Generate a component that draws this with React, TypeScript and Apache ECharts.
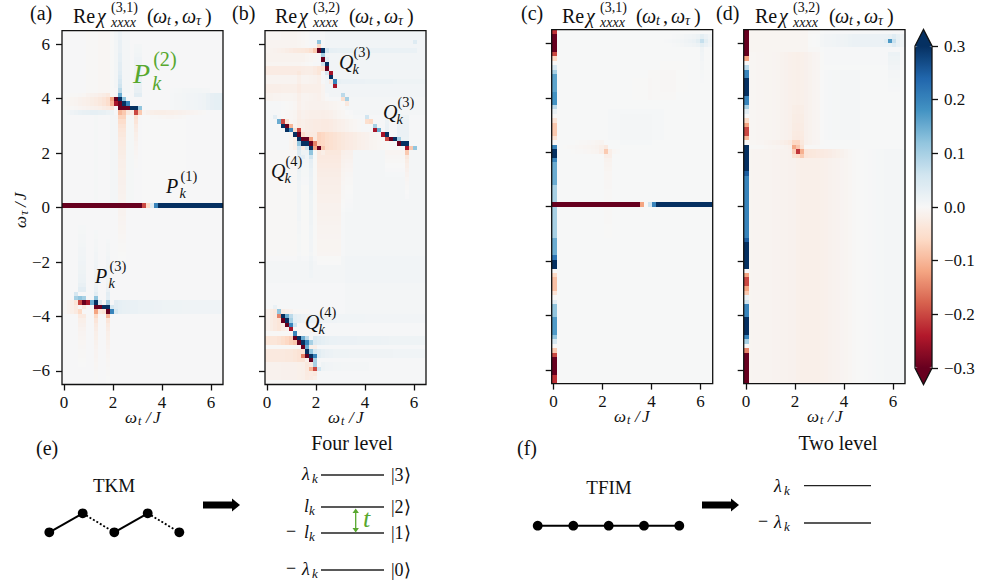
import React, { useEffect, useRef } from "react";
import * as echarts from "echarts";

// Each cell is addressed by column i (omega_t = i*DX) and row r (omega_tau from r*DY to (r+1)*DY).
const DX = 0.1636;
const DY = 0.1625;
const COLS = 41;

const xTickValues = [0, 2, 4, 6];
const yTickValues = [-6, -4, -2, 0, 2, 4, 6];
const cbarTickValues = [-0.3, -0.2, -0.1, 0, 0.1, 0.2, 0.3];
const rdBuStops = ["#67001f", "#b2182b", "#d6604d", "#f4a582", "#fddbc7", "#f7f7f7", "#d1e5f0", "#92c5de", "#4393c3", "#2166ac", "#053061"];

// washes: [i0, i1, r0, r1, value], summed. fadeRows: [r0, r1, i0, values along i], summed.
// fadeCols: [i0, i1, r0, values going down in r], summed. blocks / runs / strips overwrite.
const washA = [
  [0, 40, -40, 39, 0.002], [13, 13, 27, 39, 0.006], [15, 16, 26, 39, 0.004], [6, 8, 25, 39, -0.004], [9, 11, 25, 39, -0.007], [12, 12, 25, 39, -0.003],
  [12, 13, 1, 20, 0.005], [8, 8, 1, 20, 0.003], [16, 17, 1, 20, 0.003], [20, 30, 1, 20, -0.002],
];
const fadeRowsA = [
  [23, 24, 0, [-0.005, -0.007, -0.009, -0.011, -0.014, -0.017, -0.02, -0.024, -0.028, -0.034, -0.042, -0.055, -0.08]],
  [22, 22, 0, [-0.003, -0.004, -0.005, -0.006, -0.008, -0.01, -0.012, -0.014, -0.016, -0.02, -0.025, -0.03, -0.04]],
  [25, 25, 0, [-0.002, -0.003, -0.004, -0.005, -0.006, -0.007, -0.008, -0.01, -0.012, -0.014, -0.018, -0.025]],
  [21, 21, 1, [0.006, 0.01, 0.014, 0.018, 0.02, 0.022, 0.025, 0.025, 0.022, 0.02, 0.016, 0.012]],
  [21, 21, 20, [-0.01, -0.016, -0.02, -0.022, -0.022, -0.022, -0.02, -0.02, -0.018, -0.016, -0.014, -0.012, -0.01, -0.008, -0.006, -0.004]],
  [20, 20, 22, [-0.002, -0.003, -0.004, -0.005, -0.006, -0.006, -0.005, -0.004, -0.003]],
  [22, 25, 27, [0.002, 0.004, 0.005, 0.006, 0.007, 0.008, 0.009, 0.01, 0.012, 0.018, 0.024, 0.026, 0.026, 0.026]],
  [26, 26, 27, [0.001, 0.002, 0.003, 0.004, 0.005, 0.006, 0.006, 0.006, 0.005, 0.004]],
  [-24, -22, 13, [0.03, 0.025, 0.022, 0.02, 0.018, 0.018, 0.016, 0.016, 0.015, 0.015, 0.014, 0.014, 0.013, 0.013, 0.012, 0.012, 0.012, 0.011, 0.011, 0.01, 0.01, 0.01, 0.01, 0.01, 0.01, 0.01, 0.01, 0.01]],
  [-24, -22, 0, [-0.006, -0.012, -0.02, -0.03]],
];
const fadeColsA = [
  [14, 14, 39, [0.015, 0.015, 0.02, 0.02, 0.02, 0.025, 0.025, 0.03, 0.03, 0.035, 0.04, 0.05, 0.06, 0.08, 0.12]],
  [18, 19, 36, [0.004, 0.006, 0.008, 0.01, 0.012, 0.012, 0.012, 0.014, 0.016, 0.018, 0.02, 0.03]],
  [14, 15, 20, [-0.07, -0.055, -0.045, -0.038, -0.034, -0.03, -0.028, -0.026, -0.024, -0.022, -0.02, -0.02, -0.018, -0.018, -0.016, -0.016, -0.015, -0.014, -0.013, -0.012]],
  [14, 15, -1, [-0.012, -0.012, -0.011, -0.01, -0.009, -0.008, -0.007, -0.006, -0.005, -0.004, -0.003, -0.002]],
  [18, 18, 20, [-0.05, -0.04, -0.03, -0.025, -0.02, -0.016, -0.012, -0.01, -0.008, -0.006, -0.005, -0.004]],
  [3, 3, -20, [0.05, 0.015, 0.01]],
  [4, 5, -5, [0.002, 0.003, 0.004, 0.005, 0.006, 0.007, 0.008, 0.009, 0.01, 0.011, 0.012, 0.014, 0.016, 0.02, 0.03]],
  [8, 8, -6, [0.002, 0.003, 0.004, 0.005, 0.006, 0.007, 0.008, 0.009, 0.01, 0.011, 0.012, 0.013, 0.014, 0.018, 0.03]],
  [11, 11, -8, [0.002, 0.004, 0.005, 0.006, 0.007, 0.008, 0.009, 0.01, 0.011, 0.012, 0.014, 0.018, 0.03]],
  [8, 8, -25, [-0.05, -0.04, -0.03, -0.025, -0.02, -0.018, -0.015, -0.012, -0.01, -0.01, -0.008, -0.007, -0.006, -0.005, -0.004, -0.003]],
  [11, 11, -25, [-0.06, -0.04, -0.03, -0.025, -0.02, -0.018, -0.015, -0.012, -0.01, -0.008, -0.007, -0.006, -0.005, -0.004, -0.003, -0.002]],
  [4, 5, -25, [-0.03, -0.02, -0.016, -0.012, -0.01, -0.008, -0.007, -0.006, -0.005, -0.004, -0.003, -0.002]],
];
const blockA = [[0, 19, 0, 0, -0.3], [20, 20, 0, 0, -0.2], [21, 21, 0, 0, -0.06], [22, 22, 0, 0, 0.04], [23, 23, 0, 0, 0.2], [24, 40, 0, 0, 0.3]];
const ridgeA = [
  [25, 14, [0.15]], [24, 12, [-0.12, -0.3, 0.3, 0.12]], [23, 12, [-0.1, -0.25, -0.3, 0.3, 0.2]], [22, 14, [-0.3, -0.3, -0.3, 0.3, 0.3, 0.12]], [21, 14, [-0.1, -0.08, -0.03, -0.02, -0.2, -0.08]],
  [-21, 3, [0.1, 0.12, 0.1]], [-21, 8, [0.12]], [-21, 11, [0.03]],
  [-22, 3, [-0.04, -0.2, -0.3, -0.25, 0.15, 0.3, 0.05]], [-22, 11, [0.1]],
  [-23, 5, [-0.03]], [-23, 8, [-0.3, -0.3, 0.3, 0.3, 0.05]],
  [-24, 4, [-0.06]], [-24, 8, [-0.12, -0.03, -0.04, -0.3, 0.2, 0.05]], [-25, 11, [-0.1]], [-25, 8, [-0.06]],
];

const washB = [
  [0, 40, -40, 39, 0.003], [15, 40, 25, 39, 0.006], [20, 40, 21, 24, 0.003], [8, 8, 17, 30, -0.008], [37, 37, 37, 37, 0.03],
  [0, 7, -12, 12, -0.005], [8, 12, -12, 12, -0.004], [20, 40, -24, 12, 0.003], [0, 40, -17, -12, 0.004], [0, 10, -40, -24, -0.005],
];
const fadeRowsB = [
  [38, 39, 0, [-0.008, -0.008, -0.008, -0.008, -0.01, -0.01, -0.01, -0.01, -0.008, -0.006, -0.004]],
  [36, 37, 0, [-0.012, -0.012, -0.012, -0.012, -0.012, -0.012, -0.012, -0.012, -0.01, -0.008, -0.006]],
  [35, 35, 0, [-0.012, -0.014, -0.016, -0.018, -0.02, -0.024, -0.028, -0.032, -0.034, -0.036, -0.04, -0.05]],
  [35, 35, 15, [0.02, 0.018, 0.016, 0.014, 0.014, 0.014, 0.014, 0.012, 0.012, 0.012, 0.012, 0.012, 0.012, 0.012, 0.012, 0.012, 0.012, 0.012, 0.012, 0.012, 0.012, 0.012, 0.012]],
  [33, 34, 0, [-0.014, -0.014, -0.014, -0.014, -0.014, -0.014, -0.014, -0.014, -0.014, -0.014, -0.01, -0.008, -0.006]],
  [32, 32, 0, [-0.01, -0.01, -0.01, -0.01, -0.01, -0.01, -0.01, -0.01, -0.01, -0.008, -0.006, -0.004]],
  [30, 31, 0, [-0.028, -0.028, -0.028, -0.028, -0.028, -0.028, -0.028, -0.028, -0.028, -0.026, -0.024, -0.024, -0.03, -0.04]],
  [28, 29, 0, [-0.012, -0.012, -0.012, -0.012, -0.012, -0.012, -0.012, -0.012, -0.012, -0.012, -0.012, -0.014, -0.016, -0.02]],
  [28, 28, 18, [0.014, 0.012, 0.012, 0.012, 0.01, 0.01, 0.01, 0.008, 0.008, 0.008, 0.008, 0.008, 0.008, 0.008, 0.006, 0.006, 0.006, 0.006, 0.006, 0.006, 0.006, 0.006]],
  [26, 27, 0, [-0.022, -0.022, -0.022, -0.022, -0.02, -0.02, -0.02, -0.02, -0.02, -0.02, -0.02, -0.02, -0.02, -0.02, -0.012]],
  [24, 25, 0, [-0.014, -0.014, -0.012, -0.012, -0.01, -0.01, -0.01, -0.012, -0.012, -0.012, -0.012, -0.014, -0.016, -0.018, -0.012, -0.006]],
  [22, 23, 4, [-0.002, -0.004, -0.006, -0.008, -0.01, -0.012, -0.014, -0.016, -0.016, -0.016, -0.016, -0.014, -0.012, -0.01, -0.008, -0.006]],
  [20, 21, 4, [-0.004, -0.006, -0.008, -0.01, -0.014, -0.016, -0.018, -0.02, -0.02, -0.02, -0.022, -0.02, -0.018, -0.014, -0.01, -0.008, -0.006, -0.004]],
  [17, 19, 5, [-0.004, -0.008, -0.012, -0.016, -0.02, -0.024, -0.026, -0.028, -0.028, -0.03, -0.03, -0.028, -0.024, -0.02, -0.018, -0.014, -0.01, -0.008, -0.006]],
  [13, 16, 6, [-0.01, -0.02, -0.03, -0.03, -0.03, -0.03, -0.03, -0.07, -0.065, -0.055, -0.05, -0.045, -0.04, -0.035, -0.03, -0.028, -0.025, -0.02, -0.018, -0.015, -0.012, -0.01, -0.008, -0.006, -0.004, -0.002]],
  [-31, -30, 0, [-0.035, -0.035, -0.035, -0.04, -0.05, -0.06, -0.07, -0.08]],
  [-35, -33, 0, [-0.028, -0.028, -0.028, -0.028, -0.028, -0.03, -0.03, -0.035, -0.04, -0.04]],
  [-28, -24, 0, [-0.012, -0.02, -0.028, -0.035, -0.02, -0.012, -0.008]],
  [-39, -36, 0, [-0.01, -0.01, -0.01, -0.01, -0.012, -0.012, -0.012, -0.012, -0.014, -0.016, -0.018, -0.02, -0.014]],
  [-31, -30, 12, [0.04, 0.03, 0.025, 0.02, 0.018, 0.018, 0.016, 0.016, 0.016, 0.016, 0.016, 0.015, 0.015, 0.014, 0.014, 0.014, 0.014, 0.013, 0.013, 0.012, 0.012, 0.012, 0.012, 0.012, 0.012, 0.012, 0.012, 0.012]],
  [-34, -33, 13, [0.03, 0.02, 0.016, 0.014, 0.012, 0.012, 0.011, 0.011, 0.01, 0.01, 0.01, 0.01, 0.01, 0.01, 0.01, 0.01, 0.01, 0.01, 0.01, 0.008, 0.008, 0.008, 0.008, 0.008, 0.008, 0.008, 0.008]],
  [-26, -25, 7, [0.03, 0.024, 0.018, 0.014, 0.012, 0.01, 0.01, 0.01, 0.01, 0.009, 0.009, 0.008, 0.008, 0.008, 0.008, 0.008, 0.008, 0.008, 0.007, 0.007, 0.007, 0.006, 0.006, 0.006, 0.006, 0.006, 0.006, 0.006, 0.006, 0.006, 0.006, 0.006, 0.006, 0.006]],
  [-37, -36, 14, [0.012, 0.008, 0.006, 0.005, 0.005, 0.004, 0.004, 0.004, 0.004, 0.004, 0.004, 0.004]],
];
const fadeColsB = [
  [13, 18, 12, [-0.035, -0.032, -0.03, -0.028, -0.026, -0.024, -0.022, -0.022, -0.02, -0.02, -0.018, -0.018, -0.016, -0.016, -0.015, -0.014, -0.013, -0.012, -0.012, -0.011, -0.01, -0.01, -0.01, -0.009, -0.008, -0.007]],
  [19, 21, 12, [-0.02, -0.018, -0.016, -0.014, -0.012, -0.01, -0.009, -0.008, -0.007, -0.006, -0.005, -0.004, -0.003, -0.002]],
  [8, 8, 12, [0.04, 0.03, 0.024, 0.02, 0.018, 0.016, 0.014, 0.012, 0.012, 0.012, 0.012, 0.012, 0.01, 0.01, 0.01, 0.01, 0.008, 0.008, 0.008, 0.006, 0.006, 0.006, 0.006, 0.004, 0.004]],
  [11, 11, 12, [0.06, 0.04, 0.03, 0.026, 0.022, 0.02, 0.018, 0.018, 0.018, 0.018, 0.016, 0.016, 0.016, 0.016, 0.014, 0.014, 0.014, 0.012, 0.012, 0.012, 0.01, 0.01, 0.01, 0.008, 0.008, 0.006, 0.006, 0.004, 0.004]],
  [9, 10, 12, [0.015, 0.012, 0.01, 0.008, 0.006, 0.006, 0.004, 0.004]],
  [35, 35, 12, [-0.05, -0.04, -0.03, -0.025, -0.02, -0.016, -0.012, -0.01, -0.008, -0.006, -0.004]],
  [33, 35, 20, [0.012, 0.014, 0.016, 0.016, 0.016, 0.014, 0.014]],
  [30, 30, 20, [0.012, 0.014, 0.016, 0.016, 0.012]],
  [30, 34, 12, [-0.012, -0.01, -0.008, -0.006, -0.004, -0.002]],
  [10, 12, -32, [-0.02, -0.018, -0.016, -0.014, -0.012, -0.01, -0.008, -0.006]],
];
const ridgeB = [
  [37, 13, [0.12]], [36, 13, [-0.06]], [35, 12, [-0.08, -0.3, 0.3, 0.06]], [34, 14, [0.1]], [33, 14, [-0.3, 0.03]], [32, 14, [0.06, 0.3]], [31, 14, [-0.05, -0.3]], [30, 15, [0.05, -0.25]], [29, 16, [0.3]], [28, 16, [-0.03, 0.2]], [27, 17, [-0.25]], [25, 19, [0.08]], [24, 19, [-0.05, 0.1]], [23, 20, [-0.03]],
  [20, 25, [0.06]], [19, 25, [-0.05, -0.06]], [18, 27, [0.1]], [17, 27, [-0.25, 0.15]], [16, 29, [-0.25, 0.3]], [15, 30, [-0.2, -0.3, 0.3, 0.1]], [14, 33, [-0.3, 0.3, 0.3]], [13, 35, [-0.25, -0.08, 0.12]], [12, 35, [-0.08]],
  [20, 2, [0.03]], [19, 3, [0.15, -0.2, -0.04]], [18, 4, [0.3, -0.3, -0.1]], [17, 5, [0.3, 0.2, -0.05, -0.2]], [16, 7, [0.3, -0.3, -0.05]], [15, 8, [0.3, -0.3, -0.3, -0.12]], [14, 8, [0.12, 0.3, 0.3, -0.3, -0.15]], [13, 8, [0.06]], [13, 10, [0.06, 0.3, -0.12, -0.3, -0.08]], [12, 11, [0.12]], [12, 13, [-0.03, -0.02]], [11, 9, [0.03]], [11, 11, [0.06]],
  [-23, 2, [0.02]], [-24, 3, [0.12]], [-25, 3, [-0.15, 0.3, 0.15, 0.08]], [-26, 4, [-0.3, 0.3, 0.1]], [-27, 5, [-0.3, 0.2, 0.06]], [-28, 6, [-0.25]], [-29, 7, [0.2]], [-30, 7, [-0.3, 0.3, 0.15, 0.08]], [-31, 8, [-0.3, 0.3, 0.2, 0.1]], [-32, 9, [-0.3, 0.15]],
  [-33, 10, [0.3, 0.12, 0.05]], [-34, 9, [-0.15, -0.3, 0.3, 0.2]], [-35, 11, [-0.3, 0.1]], [-36, 12, [0.1]], [-37, 11, [-0.1, -0.2, 0.06]], [-38, 12, [-0.03]],
];

const washC = [[0, 40, -40, 39, 0.001], [14, 27, 15, 21, 0.003], [17, 24, 14, 20, 0.003], [24, 30, 24, 30, -0.003], [27, 33, 26, 32, -0.002], [20, 24, 24, 28, -0.002]];
const fadeRowsC = [
  [37, 37, 28, [0.002, 0.003, 0.005, 0.007, 0.009, 0.012, 0.015, 0.02, 0.03, 0.07, 0.03, 0.012, 0.006]],
  [38, 38, 30, [0.002, 0.004, 0.006, 0.008, 0.01, 0.012, 0.016, 0.03, 0.018, 0.01, 0.005]],
  [36, 36, 30, [0.002, 0.004, 0.006, 0.008, 0.01, 0.012, 0.016, 0.03, 0.018, 0.01, 0.005]],
  [13, 13, 3, [-0.002, -0.003, -0.004, -0.005, -0.006, -0.007, -0.008, -0.01, -0.012, -0.018, -0.03]],
  [12, 12, 5, [-0.002, -0.003, -0.004, -0.005, -0.006, -0.008, -0.01, -0.02, -0.08, -0.02, -0.006, -0.003]],
  [14, 14, 6, [-0.002, -0.003, -0.004, -0.005, -0.006, -0.008, -0.01]],
];
const fadeColsC = [
  [13, 14, 11, [-0.02, -0.012, -0.01, -0.008, -0.006, -0.006, -0.005, -0.005, -0.004, -0.004, -0.004, -0.004, -0.003, -0.003, -0.003, -0.003, -0.002, -0.002, -0.002]],
  [37, 37, 35, [0.012, 0.01, 0.008, 0.006, 0.005, 0.004, 0.003, 0.002]],
];
const washD = [[0, 40, -40, 39, -0.003], [19, 40, 13, 39, 0.004], [20, 40, 32, 39, 0.002], [1, 15, 35, 39, -0.004]];
const fadeRowsD = [
  [36, 38, 16, [0.002, 0.003, 0.004, 0.005, 0.006, 0.007, 0.008, 0.009, 0.01, 0.012, 0.014, 0.016, 0.016, 0.016, 0.016, 0.016, 0.016, 0.016, 0.016, 0.016, 0.02, 0.035, 0.02, 0.012, 0.008]],
  [37, 37, 35, [0.015, 0.15, 0.03]],
  [14, 34, 1, [-0.002, -0.002, -0.003, -0.003, -0.004, -0.004, -0.005, -0.006, -0.008, -0.01, -0.012, -0.013, -0.014, -0.013, -0.011, -0.008, -0.005, -0.003, -0.002]],
  [15, 30, 19, [0.001, 0.002, 0.003, 0.004, 0.004, 0.005, 0.005, 0.005, 0.005, 0.005]],
  [-40, 12, 1, [-0.004, -0.005, -0.005, -0.006, -0.006, -0.006, -0.007, -0.007, -0.008, -0.008, -0.009, -0.01, -0.013, -0.015, -0.015, -0.015, -0.015, -0.014, -0.013, -0.012, -0.01, -0.008, -0.007, -0.005, -0.004, -0.002, 0, 0.002, 0.003, 0.004, 0.005, 0.006, 0.007, 0.008, 0.009, 0.01, 0.01, 0.01, 0.01, 0.01]],
  [11, 12, 14, [-0.03, -0.02, -0.016, -0.014, -0.012, -0.012, -0.01, -0.01, -0.008, -0.006, -0.004, -0.002]],
  [13, 14, 5, [-0.002, -0.003, -0.004, -0.005, -0.006, -0.008, -0.012, -0.03, -0.03]],
  [12, 12, 12, [-0.06, -0.2, -0.06]],
  [13, 13, 12, [-0.06, -0.03, -0.02]],
  [11, 11, 12, [-0.03, -0.04, -0.03]],
];
const fadeColsD = [
  [12, 14, 22, [-0.004, -0.004, -0.006, -0.006, -0.008, -0.008, -0.01, -0.012, -0.016, -0.02]],
  [36, 38, 34, [0.014, 0.012, 0.01, 0.008, 0.006, 0.005, 0.004, 0.003, 0.002]],
];
const blockC = [[0, 21, 0, 0, -0.3], [22, 22, 0, 0, -0.12], [23, 23, 0, 0, 0], [24, 24, 0, 0, 0.06], [25, 25, 0, 0, 0.2], [26, 40, 0, 0, 0.3]];
const stripC = [
  [39, 39, -0.22], [35, 38, -0.3], [34, 34, -0.2], [33, 33, -0.06], [32, 32, 0], [31, 31, 0.05], [30, 30, 0.1], [26, 29, 0.16], [23, 25, 0.18], [22, 22, 0.08], [21, 21, 0.02], [20, 20, 0], [19, 19, -0.04], [16, 18, -0.08], [15, 15, -0.04], [14, 14, 0], [13, 13, 0.2], [11, 12, 0.3], [10, 10, 0.2], [5, 9, 0.15], [1, 4, 0.1],
  [-7, -1, 0.1], [-11, -8, 0.15], [-12, -12, 0.22], [-14, -13, 0.3], [-15, -15, 0], [-16, -16, -0.06], [-19, -17, -0.09], [-20, -20, -0.04], [-21, -21, 0], [-22, -22, 0.03], [-25, -23, 0.12], [-29, -26, 0.17], [-30, -30, 0.12], [-31, -31, 0.05], [-32, -32, 0], [-33, -33, -0.08], [-34, -34, -0.2], [-38, -35, -0.3], [-40, -39, -0.22],
];
const stripD = [
  [34, 39, -0.3], [33, 33, -0.12], [32, 32, 0], [31, 31, 0.08], [29, 30, 0.2], [25, 28, 0.3], [23, 24, 0.2], [22, 22, 0.1], [21, 21, 0.03], [20, 20, 0], [19, 19, -0.06], [18, 18, -0.12], [16, 17, -0.2], [15, 15, -0.1], [14, 14, 0], [8, 13, 0.3], [7, 7, 0.25], [0, 6, 0.2],
  [-7, -1, 0.2], [-8, -8, 0.25], [-14, -9, 0.3], [-15, -15, 0], [-16, -16, -0.12], [-18, -17, -0.2], [-19, -19, -0.12], [-20, -20, -0.08], [-21, -21, 0.02], [-22, -22, 0.06], [-25, -23, 0.2], [-29, -26, 0.3], [-30, -30, 0.2], [-31, -31, 0.1], [-32, -32, 0], [-33, -33, -0.15], [-40, -34, -0.3],
];

const INK = "#111111";
const GREEN = "#58a82f";
const FONT = "Liberation Serif";
const PX_X = 24.5;

function buildCells(washes: any[], fadeRows: any[], fadeCols: any[], blocks: number[][], runs: any[], strip: number[][] = []) {
  const grid = new Map<string, number>();
  const key = (i: number, r: number) => i + ":" + r;
  const add = (i: number, r: number, v: number) => {
    if (i < COLS && r >= -40 && r < 40) grid.set(key(i, r), (grid.get(key(i, r)) || 0) + v);
  };
  // highest column first, so the wider first column is painted last
  for (let i = COLS - 1; i >= 0; i--) for (let r = -40; r < 40; r++) grid.set(key(i, r), 0);
  washes.forEach(([i0, i1, r0, r1, v]) => {
    for (let i = i0; i <= i1; i++) for (let r = r0; r <= r1; r++) add(i, r, v);
  });
  fadeRows.forEach(([r0, r1, i0, vals]) => {
    for (let r = r0; r <= r1; r++) vals.forEach((v: number, k: number) => add(i0 + k, r, v));
  });
  fadeCols.forEach(([i0, i1, r0, vals]) => {
    for (let i = i0; i <= i1; i++) vals.forEach((v: number, k: number) => add(i, r0 - k, v));
  });
  strip.forEach(([r0, r1, v]) => {
    for (let r = r0; r <= r1; r++) grid.set(key(0, r), v);
  });
  blocks.forEach(([i0, i1, r0, r1, v]) => {
    for (let i = i0; i <= i1; i++) for (let r = r0; r <= r1; r++) grid.set(key(i, r), v);
  });
  runs.forEach(([r, i0, vals]) => vals.forEach((v: number, k: number) => grid.set(key(i0 + k, r), v)));
  const out: number[][] = [];
  grid.forEach((v, k) => {
    const [i, r] = k.split(":").map(Number);
    out.push([i * DX, r * DY, Math.max(-0.3, Math.min(0.3, v))]);
  });
  return out;
}

const panels = [
  { left: 62, right: 223, top: 30.7, bottom: 384.5, x0: 64, cells: buildCells(washA, fadeRowsA, fadeColsA, blockA, ridgeA), yLabels: true },
  { left: 265, right: 426, top: 30.7, bottom: 384.5, x0: 267, cells: buildCells(washB, fadeRowsB, fadeColsB, [], ridgeB), yLabels: false },
  { left: 551.7, right: 712.7, top: 29.7, bottom: 383.6, x0: 553.4, cells: buildCells(washC, fadeRowsC, fadeColsC, blockC, [], stripC), yLabels: false },
  { left: 743.7, right: 905, top: 29.7, bottom: 383.6, x0: 746, cells: buildCells(washD, fadeRowsD, fadeColsD, [], [], stripD), yLabels: false },
];

function T(x: number, base: number, text: string, size: number, o: any = {}) {
  const align = o.a || "left";
  return {
    type: "text", x, y: base - 0.3375 * size, z: 60, silent: true,
    style: { text, font: `${o.i ? "italic " : ""}${size}px ${FONT}`, fill: o.c || INK, align, textAlign: align, verticalAlign: "middle", textVerticalAlign: "middle" },
  };
}
function titleParts(x: number, sup: string) {
  const b = 22.7;
  return [
    T(x, b, "Re", 20), T(x + 24, b, "χ", 20, { i: true }),
    T(x + 38, 12, sup, 14), T(x + 38, 27.2, "xxxx", 14, { i: true }),
    T(x + 74, b, "(", 20), T(x + 80, b, "ω", 20, { i: true }), T(x + 94, b + 3, "t", 14, { i: true }), T(x + 101, b, ",", 20),
    T(x + 109, b, "ω", 20, { i: true }), T(x + 123, b + 3, "τ", 14, { i: true }), T(x + 132, b, ")", 20),
  ];
}
function xName(x: number, base: number) {
  return [T(x, base, "ω", 17, { i: true }), T(x + 13, base + 2.5, "t", 12, { i: true }), T(x + 21, base, "/", 17, { i: true }), T(x + 28, base, "J", 17, { i: true })];
}
function PQ(x: number, base: number, letter: string, sup: string, size: number, c?: string) {
  const small = size * 0.72;
  const w = size * 0.72;
  return [T(x, base, letter, size, { i: true, c }), T(x + w, base - size * 0.62, sup, small, { c }), T(x + w - 1, base + size * 0.25, "k", small, { i: true, c })];
}
function arrow(x: number, y: number) {
  return [
    { type: "rect", z: 60, shape: { x, y: y - 3.5, width: 30, height: 7 }, style: { fill: "#000" } },
    { type: "polygon", z: 60, shape: { points: [[x + 29, y - 6.5], [x + 37, y], [x + 29, y + 6.5]] }, style: { fill: "#000" } },
  ];
}
function level(x1: number, x2: number, y: number) {
  return { type: "line", z: 60, shape: { x1, y1: y, x2, y2: y }, style: { stroke: "#222", lineWidth: 1.3 } };
}
function dot(cx: number, cy: number) {
  return { type: "circle", z: 61, shape: { cx, cy, r: 4.9 }, style: { fill: "#000" } };
}
function bond(x1: number, y1: number, x2: number, y2: number, dotted = false) {
  return { type: "line", z: 60, shape: { x1, y1, x2, y2 }, style: { stroke: "#000", lineWidth: dotted ? 1.8 : 2, lineDash: dotted ? [2, 2] : undefined } };
}
function lam(x: number, base: number, letter: string, minusX?: number) {
  const out: any[] = [T(x, base, letter, 18, { i: true }), T(x + (letter === "l" ? 5 : 10), base + 3, "k", 13, { i: true })];
  if (minusX !== undefined) out.push(T(minusX, base - 1, "−", 18));
  return out;
}

function buildGraphics() {
  const frames = panels.map((p) => ({ type: "rect", z: 50, silent: true, shape: { x: p.left, y: p.top, width: p.right - p.left, height: p.bottom - p.top }, style: { fill: "none", stroke: INK, lineWidth: 1.3 } }));
  const yName = {
    type: "group", x: 26, y: 228, rotation: Math.PI / 2, z: 60, silent: true,
    children: [T(0, 0, "ω", 17, { i: true }), T(13, 2.5, "τ", 12, { i: true }), T(21, 0, "/", 17, { i: true }), T(28, 0, "J", 17, { i: true })],
  };
  return [
    ...frames,
    { type: "polygon", z: 50, shape: { points: [[915, 46], [923.5, 29.5], [932, 46]] }, style: { fill: "#053061" } },
    { type: "polygon", z: 50, shape: { points: [[915, 368], [923.5, 384.5], [932, 368]] }, style: { fill: "#67001f" } },
    { type: "polygon", z: 51, shape: { points: [[915, 46], [923.5, 29.5], [932, 46], [932, 368], [923.5, 384.5], [915, 368]] }, style: { fill: "none", stroke: INK, lineWidth: 1.3 } },
    T(30, 20, "(a)", 20), T(232, 20, "(b)", 20), T(521, 20, "(c)", 20), T(716, 20, "(d)", 20),
    ...titleParts(73, "(3,1)"), ...titleParts(275, "(3,2)"), ...titleParts(562, "(3,1)"), ...titleParts(755, "(3,2)"),
    ...xName(125, 423), ...xName(328, 423), ...xName(614, 422), ...xName(807, 422),
    yName,
    ...PQ(133, 83, "P", "(2)", 28, GREEN),
    ...PQ(166, 193, "P", "(1)", 20),
    ...PQ(95, 283, "P", "(3)", 20),
    ...PQ(339, 69, "Q", "(3)", 20),
    ...PQ(383, 119, "Q", "(3)", 20),
    ...PQ(271, 178, "Q", "(4)", 20),
    ...PQ(305, 329, "Q", "(4)", 20),
    T(36, 455, "(e)", 20), T(517, 455, "(f)", 20),
    T(114, 492, "TKM", 19, { a: "center" }), T(609, 494, "TFIM", 19, { a: "center" }),
    T(352, 450, "Four level", 20, { a: "center" }), T(838, 450, "Two level", 20, { a: "center" }),
    bond(49.3, 532.3, 82.7, 513.3), bond(82.7, 513.3, 114.3, 532.3, true), bond(114.3, 532.3, 147.7, 513.3), bond(147.7, 513.3, 179.3, 532.3, true),
    dot(49.3, 532.3), dot(82.7, 513.3), dot(114.3, 532.3), dot(147.7, 513.3), dot(179.3, 532.3),
    bond(537.7, 525.7, 679.3, 525.7), dot(537.7, 525.7), dot(573.3, 525.7), dot(608.7, 525.7), dot(644, 525.7), dot(679.3, 525.7),
    ...arrow(203, 505), ...arrow(702, 505),
    level(321, 384, 475), level(321, 384, 507), level(321, 384, 533), level(321, 384, 570),
    ...lam(302, 480, "λ"), ...lam(304, 512, "l"), ...lam(304, 538, "l", 286), ...lam(302, 575, "λ", 286),
    T(391, 481, "|3⟩", 18), T(391, 513, "|2⟩", 18), T(391, 539, "|1⟩", 18), T(391, 576, "|0⟩", 18),
    { type: "line", z: 60, shape: { x1: 355.7, y1: 510, x2: 355.7, y2: 531 }, style: { stroke: GREEN, lineWidth: 1.3 } },
    { type: "polygon", z: 60, shape: { points: [[352.5, 513], [355.7, 508.5], [358.9, 513]] }, style: { fill: GREEN } },
    { type: "polygon", z: 60, shape: { points: [[352.5, 528], [355.7, 532.5], [358.9, 528]] }, style: { fill: GREEN } },
    T(363, 527, "t", 26, { i: true, c: GREEN }),
    level(804, 871, 485.7), level(804, 871, 523),
    ...lam(774, 492, "λ"), ...lam(774, 528, "λ", 758),
  ];
}

function renderCell(_p: any, api: any) {
  const x = api.value(0);
  const y = api.value(1);
  const a = api.coord([x - DX / 2, y + DY]);
  // the first column reaches a little further right, as in the reference
  const b = api.coord([x + DX / 2 + (x === 0 ? 0.05 : 0), y]);
  const x0 = Math.round(a[0]);
  const y0 = Math.round(a[1]);
  return {
    type: "rect",
    shape: { x: x0, y: y0, width: Math.round(b[0]) - x0, height: Math.round(b[1]) - y0 },
    style: { fill: api.visual("color") },
  };
}
const minusFmt = (digits: number) => (v: number) => {
  const s = Math.abs(v).toFixed(digits);
  return v < -1e-9 ? "−" + s : s;
};

export default function App() {
  const ref = useRef<HTMLDivElement>(null);
  useEffect(() => {
    const chart = echarts.init(ref.current!, undefined, { renderer: "svg" });
    const labelStyle = { color: INK, fontFamily: FONT, fontSize: 17 };
    const tick = { lineStyle: { color: INK, width: 1.3 }, length: 6 };
    const option: any = {
      animation: false,
      backgroundColor: "#ffffff",
      grid: [
        ...panels.map((p) => ({ left: p.left, top: p.top, width: p.right - p.left, height: p.bottom - p.top, containLabel: false })),
        { left: 915, top: 46, width: 17, height: 322, containLabel: false },
      ],
      xAxis: [
        ...panels.map((p, k) => ({
          type: "value", gridIndex: k, min: (p.left - p.x0) / PX_X, max: (p.right - p.x0) / PX_X,
          axisLine: { show: false, onZero: false }, splitLine: { show: false },
          axisTick: { ...tick, show: true, customValues: xTickValues },
          axisLabel: { ...labelStyle, margin: 9, customValues: xTickValues, formatter: minusFmt(0) },
        })),
        { type: "value", gridIndex: 4, min: 0, max: 1, show: false },
      ],
      yAxis: [
        ...panels.map((p, k) => ({
          type: "value", gridIndex: k, min: -6.5, max: 6.5,
          axisLine: { show: false, onZero: false }, splitLine: { show: false },
          axisTick: { ...tick, show: true, customValues: yTickValues },
          axisLabel: { ...labelStyle, show: p.yLabels, margin: 12, customValues: yTickValues, formatter: minusFmt(0) },
        })),
        {
          type: "value", gridIndex: 4, min: -0.3, max: 0.3, position: "right",
          axisLine: { show: false, onZero: false }, splitLine: { show: false },
          axisTick: { ...tick, show: true, customValues: cbarTickValues },
          axisLabel: { ...labelStyle, margin: 12, customValues: cbarTickValues, formatter: minusFmt(1) },
        },
      ],
      visualMap: {
        type: "continuous", show: true, min: -0.3, max: 0.3, dimension: 2, seriesIndex: [0, 1, 2, 3],
        left: 915, top: 46, itemWidth: 17, itemHeight: 322, padding: 0, calculable: false, hoverLink: false,
        inRange: { color: rdBuStops },
      },
      series: panels.map((p, k) => ({
        type: "custom", coordinateSystem: "cartesian2d", xAxisIndex: k, yAxisIndex: k,
        data: p.cells, encode: { x: 0, y: 1 }, renderItem: renderCell, clip: true, silent: true, progressive: 0,
      })),
      graphic: { elements: buildGraphics() },
    };
    chart.setOption(option);
    return () => chart.dispose();
  }, []);
  return <div ref={ref} style={{ position: "fixed", left: 0, top: 0, width: 985, height: 584 }} />;
}
